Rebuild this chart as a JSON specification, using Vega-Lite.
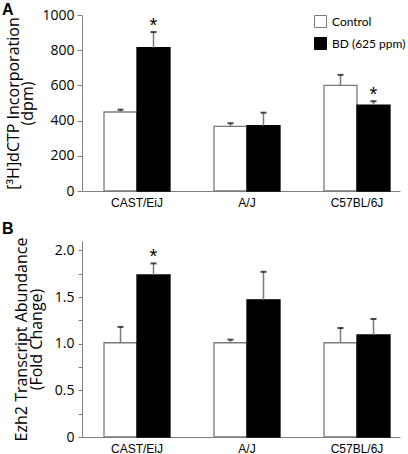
{
  "$schema": "https://vega.github.io/schema/vega-lite/v6.json",
  "background": "white",
  "padding": {"left": 2, "top": 2, "right": 8, "bottom": 0},
  "config": {
    "view": {"stroke": null},
    "axis": {"grid": false, "domainColor": "#808080", "tickColor": "#808080", "labelColor": "black", "titleColor": "black", "labelOverlap": false},
    "scale": {"offsetBandPaddingInner": 0, "offsetBandPaddingOuter": 0}
  },
  "datasets": {
    "a": [
      {"strain": "CAST/EiJ", "group": "Control", "value": 449, "upper": 462, "sig": ""},
      {"strain": "CAST/EiJ", "group": "BD (625 ppm)", "value": 814, "upper": 903, "sig": "*"},
      {"strain": "A/J", "group": "Control", "value": 367, "upper": 385, "sig": ""},
      {"strain": "A/J", "group": "BD (625 ppm)", "value": 371, "upper": 445, "sig": ""},
      {"strain": "C57BL/6J", "group": "Control", "value": 600, "upper": 660, "sig": ""},
      {"strain": "C57BL/6J", "group": "BD (625 ppm)", "value": 488, "upper": 510, "sig": "*"}
    ],
    "b": [
      {"strain": "CAST/EiJ", "group": "Control", "value": 1.01, "upper": 1.18, "sig": ""},
      {"strain": "CAST/EiJ", "group": "BD (625 ppm)", "value": 1.736, "upper": 1.86, "sig": "*"},
      {"strain": "A/J", "group": "Control", "value": 1.01, "upper": 1.043, "sig": ""},
      {"strain": "A/J", "group": "BD (625 ppm)", "value": 1.47, "upper": 1.77, "sig": ""},
      {"strain": "C57BL/6J", "group": "Control", "value": 1.01, "upper": 1.168, "sig": ""},
      {"strain": "C57BL/6J", "group": "BD (625 ppm)", "value": 1.093, "upper": 1.265, "sig": ""}
    ]
  },
  "spacing": 13,
  "resolve": {"scale": {"fill": "independent", "stroke": "independent"}, "legend": {"fill": "independent", "stroke": "independent"}},
  "vconcat": [
    {
      "width": 318,
      "height": 176,
      "title": {"text": "A", "anchor": "start", "frame": "group", "dx": -80, "offset": -10, "fontSize": 16, "font": "Liberation Sans", "fontWeight": "bold", "color": "black"},
      "data": {"name": "a"},
      "encoding": {
        "x": {"field": "strain", "type": "nominal", "sort": ["CAST/EiJ", "A/J", "C57BL/6J"],
              "scale": {"paddingInner": 0.4, "paddingOuter": 0.1455, "align": 0.6875},
              "axis": {"title": null, "labelAngle": 0, "ticks": false, "labelPadding": 6, "labelFont": "Liberation Sans", "labelFontSize": 12}},
        "xOffset": {"field": "group", "type": "nominal", "sort": ["Control", "BD (625 ppm)"]},
        "y": {"field": "value", "type": "quantitative", "scale": {"domain": [0, 1000]},
              "axis": {"values": [0, 200, 400, 600, 800, 1000], "format": "d", "labelOverlap": false, "tickSize": 5, "labelPadding": 3, "labelFont": "Open Sans", "labelFontSize": 14,
                       "title": ["[³H]dCTP Incorporation", "(dpm)"], "titleFont": "Open Sans", "titleFontSize": 16, "titleFontWeight": "normal", "titleLineHeight": 14, "titlePadding": 6}}
      },
      "layer": [
        {
          "mark": {"type": "bar", "strokeWidth": 1.3},
          "encoding": {
            "fill": {"field": "group", "type": "nominal", "sort": ["Control", "BD (625 ppm)"],
                     "scale": {"domain": ["Control", "BD (625 ppm)"], "range": ["white", "black"]},
                     "legend": {"title": null, "orient": "none", "legendX": 232, "legendY": 0, "symbolType": "square", "symbolSize": 144,
                                "symbolStrokeColor": "#333", "symbolStrokeWidth": 1, "labelFont": "Lato", "labelFontSize": 12, "labelColor": "black", "labelOffset": 5, "rowPadding": 5}},
            "stroke": {"field": "group", "type": "nominal", "scale": {"domain": ["Control", "BD (625 ppm)"], "range": ["#7a7a7a", "black"]}, "legend": null}
          }
        },
        {
          "mark": {"type": "rule", "color": "#7a7a7a", "strokeWidth": 1.5},
          "encoding": {"y2": {"field": "upper"}}
        },
        {
          "mark": {"type": "tick", "color": "black", "size": 6, "thickness": 2, "orient": "horizontal"},
          "encoding": {"y": {"field": "upper", "type": "quantitative", "scale": {"domain": [0, 1000]},
              "axis": {"values": [0, 200, 400, 600, 800, 1000], "format": "d", "labelOverlap": false, "tickSize": 5, "labelPadding": 3, "labelFont": "Open Sans", "labelFontSize": 14,
                       "title": ["[³H]dCTP Incorporation", "(dpm)"], "titleFont": "Open Sans", "titleFontSize": 16, "titleFontWeight": "normal", "titleLineHeight": 14, "titlePadding": 6}}}
        },
        {
          "mark": {"type": "text", "font": "Liberation Sans", "fontSize": 20, "baseline": "alphabetic", "dy": 0, "color": "black"},
          "encoding": {"y": {"field": "upper", "type": "quantitative", "scale": {"domain": [0, 1000]},
              "axis": {"values": [0, 200, 400, 600, 800, 1000], "format": "d", "labelOverlap": false, "tickSize": 5, "labelPadding": 3, "labelFont": "Open Sans", "labelFontSize": 14,
                       "title": ["[³H]dCTP Incorporation", "(dpm)"], "titleFont": "Open Sans", "titleFontSize": 16, "titleFontWeight": "normal", "titleLineHeight": 14, "titlePadding": 6}},
                       "text": {"field": "sig"}}
        }
      ]
    },
    {
      "width": 318,
      "height": 196,
      "title": {"text": "B", "anchor": "start", "frame": "group", "dx": -80, "offset": 0, "fontSize": 16, "font": "Liberation Sans", "fontWeight": "bold", "color": "black"},
      "data": {"name": "b"},
      "encoding": {
        "x": {"field": "strain", "type": "nominal", "sort": ["CAST/EiJ", "A/J", "C57BL/6J"],
              "scale": {"paddingInner": 0.4, "paddingOuter": 0.1455, "align": 0.6875},
              "axis": {"title": null, "labelAngle": 0, "ticks": false, "labelPadding": 6, "labelFont": "Liberation Sans", "labelFontSize": 12}},
        "xOffset": {"field": "group", "type": "nominal", "sort": ["Control", "BD (625 ppm)"]},
        "y": {"field": "value", "type": "quantitative", "scale": {"domain": [0, 2.1]},
              "axis": {"values": [0, 0.25, 0.5, 0.75, 1, 1.25, 1.5, 1.75, 2], "labelOverlap": false,
                       "labelExpr": "datum.value == 0 ? '0' : (datum.value * 2 % 1 == 0 ? format(datum.value, '.1f') : '')",
                       "tickSize": 4, "labelPadding": 4, "labelFont": "Open Sans", "labelFontSize": 14,
                       "title": ["Ezh2 Transcript Abundance", "(Fold Change)"], "titleFont": "Open Sans", "titleFontSize": 16, "titleFontWeight": "normal", "titleLineHeight": 15, "titlePadding": 10}}
      },
      "layer": [
        {
          "mark": {"type": "bar", "strokeWidth": 1.3},
          "encoding": {
            "fill": {"field": "group", "type": "nominal", "scale": {"domain": ["Control", "BD (625 ppm)"], "range": ["white", "black"]}, "legend": null},
            "stroke": {"field": "group", "type": "nominal", "scale": {"domain": ["Control", "BD (625 ppm)"], "range": ["#7a7a7a", "black"]}, "legend": null}
          }
        },
        {
          "mark": {"type": "rule", "color": "#7a7a7a", "strokeWidth": 1.5},
          "encoding": {"y2": {"field": "upper"}}
        },
        {
          "mark": {"type": "tick", "color": "black", "size": 6, "thickness": 2, "orient": "horizontal"},
          "encoding": {"y": {"field": "upper", "type": "quantitative", "scale": {"domain": [0, 2.1]},
              "axis": {"values": [0, 0.25, 0.5, 0.75, 1, 1.25, 1.5, 1.75, 2], "labelOverlap": false,
                       "labelExpr": "datum.value == 0 ? '0' : (datum.value * 2 % 1 == 0 ? format(datum.value, '.1f') : '')",
                       "tickSize": 4, "labelPadding": 4, "labelFont": "Open Sans", "labelFontSize": 14,
                       "title": ["Ezh2 Transcript Abundance", "(Fold Change)"], "titleFont": "Open Sans", "titleFontSize": 16, "titleFontWeight": "normal", "titleLineHeight": 15, "titlePadding": 10}}}
        },
        {
          "mark": {"type": "text", "font": "Liberation Sans", "fontSize": 20, "baseline": "alphabetic", "dy": 0, "color": "black"},
          "encoding": {"y": {"field": "upper", "type": "quantitative", "scale": {"domain": [0, 2.1]},
              "axis": {"values": [0, 0.25, 0.5, 0.75, 1, 1.25, 1.5, 1.75, 2], "labelOverlap": false,
                       "labelExpr": "datum.value == 0 ? '0' : (datum.value * 2 % 1 == 0 ? format(datum.value, '.1f') : '')",
                       "tickSize": 4, "labelPadding": 4, "labelFont": "Open Sans", "labelFontSize": 14,
                       "title": ["Ezh2 Transcript Abundance", "(Fold Change)"], "titleFont": "Open Sans", "titleFontSize": 16, "titleFontWeight": "normal", "titleLineHeight": 15, "titlePadding": 10}},
                       "text": {"field": "sig"}}
        }
      ]
    }
  ]
}
